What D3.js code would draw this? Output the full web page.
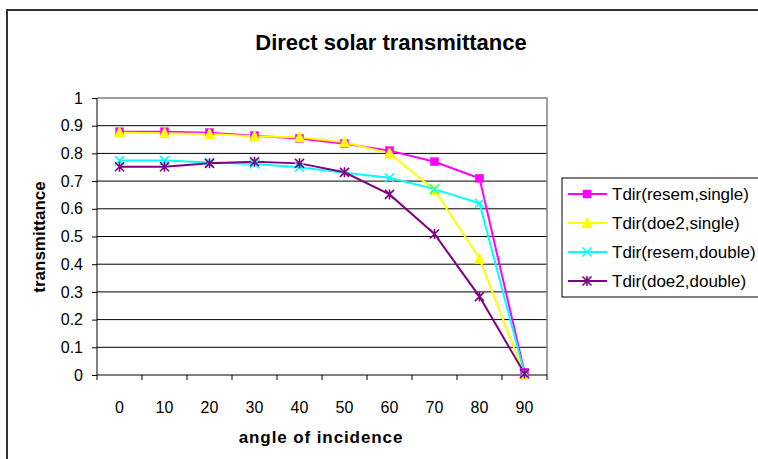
<!DOCTYPE html>
<html>
<head>
<meta charset="utf-8">
<script src="https://cdn.jsdelivr.net/npm/d3@7/dist/d3.min.js"></script>
<style>
  html, body { margin: 0; padding: 0; background: #fff; }
  svg { display: block; font-family: "Liberation Sans", Arial, sans-serif; }
</style>
</head>
<body>
<svg id="chart" width="758" height="459"></svg>
<script>
// Angles of incidence (degrees)
const angles = ["0", "10", "20", "30", "40", "50", "60", "70", "80", "90"];

// Direct solar transmittance per model / glazing
const resemSingle = [0.878, 0.878, 0.875, 0.864, 0.854, 0.835, 0.81, 0.77, 0.71, 0.01];
const doe2Single  = [0.875, 0.873, 0.870, 0.862, 0.858, 0.840, 0.80, 0.668, 0.42, 0.0];
const resemDouble = [0.774, 0.774, 0.767, 0.762, 0.750, 0.730, 0.712, 0.671, 0.62, 0.005];
const doe2Double  = [0.752, 0.752, 0.764, 0.770, 0.764, 0.732, 0.652, 0.509, 0.283, 0.005];

const seriesNames = ["Tdir(resem,single)", "Tdir(doe2,single)", "Tdir(resem,double)", "Tdir(doe2,double)"];
const yTicks = [0, 0.1, 0.2, 0.3, 0.4, 0.5, 0.6, 0.7, 0.8, 0.9, 1];

const series = [
  { name: seriesNames[0], values: resemSingle, color: "#ff00ff", marker: "square" },
  { name: seriesNames[1], values: doe2Single,  color: "#ffff00", marker: "triangle" },
  { name: seriesNames[2], values: resemDouble, color: "#00ffff", marker: "cross" },
  { name: seriesNames[3], values: doe2Double,  color: "#800080", marker: "star" }
];

const svg = d3.select("#chart");

// Outer chart frame
svg.append("rect")
  .attr("x", 7).attr("y", 10).attr("width", 800).attr("height", 500)
  .attr("fill", "none").attr("stroke", "#333").attr("stroke-width", 2);

const plot = { left: 97, right: 547, top: 98, bottom: 375 };

const x = d3.scaleBand().domain(angles).range([plot.left, plot.right]).paddingInner(0).paddingOuter(0);
const y = d3.scaleLinear().domain([0, 1]).range([plot.bottom, plot.top]);

// Horizontal gridlines
svg.append("g")
  .selectAll("line")
  .data(yTicks.filter(t => t > 0 && t < 1))
  .join("line")
  .attr("x1", plot.left).attr("x2", plot.right)
  .attr("y1", d => y(d)).attr("y2", d => y(d))
  .attr("stroke", "#000").attr("stroke-width", 1);

// Plot area top/right edges
svg.append("path")
  .attr("d", `M${plot.left},${y(1)}H${plot.right}V${plot.bottom}`)
  .attr("fill", "none").attr("stroke", "#808080").attr("stroke-width", 1.5);

// Y axis
const yAxis = d3.axisLeft(y).tickValues(yTicks).tickSize(5).tickPadding(9)
  .tickFormat(d => d === 0 || d === 1 ? String(d) : d.toFixed(1));
const gy = svg.append("g").attr("transform", `translate(${plot.left},0)`).call(yAxis);
gy.select(".domain").attr("stroke", "#000").attr("d", `M0,${plot.top}V${plot.bottom}`);
gy.selectAll(".tick line").attr("stroke", "#000");
gy.selectAll(".tick text").attr("font-size", 16).attr("fill", "#000")
  .attr("font-family", "Liberation Sans, Arial, sans-serif");

// X axis: ticks sit at category boundaries, labels at category centers
const gx = svg.append("g").attr("transform", `translate(0,${plot.bottom})`);
gx.append("line").attr("x1", plot.left).attr("x2", plot.right).attr("y1", 0).attr("y2", 0)
  .attr("stroke", "#000");
const boundaries = angles.map(a => x(a)).concat([plot.right]);
gx.selectAll("line.tk").data(boundaries).join("line").attr("class", "tk")
  .attr("x1", d => d).attr("x2", d => d).attr("y1", 0).attr("y2", 5).attr("stroke", "#000");
gx.selectAll("text").data(angles).join("text")
  .attr("x", d => x(d) + x.bandwidth() / 2).attr("y", 38)
  .attr("text-anchor", "middle").attr("font-size", 16).attr("fill", "#000")
  .text(d => d);

// Titles
svg.append("text").attr("x", 391).attr("y", 50).attr("text-anchor", "middle")
  .attr("font-size", 22).attr("font-weight", "bold").text("Direct solar transmittance");
svg.append("text").attr("x", 321).attr("y", 443).attr("text-anchor", "middle")
  .attr("font-size", 17).attr("font-weight", "bold").attr("letter-spacing", 0.9)
  .text("angle of incidence");
svg.append("text").attr("transform", "translate(45,237) rotate(-90)").attr("text-anchor", "middle")
  .attr("font-size", 17).attr("font-weight", "bold").text("transmittance");

// Marker drawing
function drawMarker(g, type, color) {
  if (type === "square") {
    g.append("rect").attr("x", -4).attr("y", -4).attr("width", 8).attr("height", 8)
      .attr("fill", color).attr("stroke", color).attr("stroke-width", 0.5);
  } else if (type === "triangle") {
    g.append("path").attr("d", "M0,-5.5L5,4.5L-5,4.5Z").attr("fill", color).attr("stroke", color);
  } else if (type === "cross") {
    g.append("path").attr("d", "M-4.5,-4.5L4.5,4.5M4.5,-4.5L-4.5,4.5")
      .attr("stroke", color).attr("stroke-width", 1.6).attr("fill", "none");
  } else if (type === "star") {
    g.append("path").attr("d", "M-4.5,-4.5L4.5,4.5M4.5,-4.5L-4.5,4.5M0,-5V5")
      .attr("stroke", color).attr("stroke-width", 1.6).attr("fill", "none");
  }
}

const cx = d => x(d) + x.bandwidth() / 2;
const line = d3.line().x(d => cx(d.a)).y(d => y(d.v));

series.forEach(s => {
  const pts = angles.map((a, i) => ({ a, v: s.values[i] }));
  svg.append("path").datum(pts).attr("d", line)
    .attr("fill", "none").attr("stroke", s.color).attr("stroke-width", 2);
});
series.forEach(s => {
  const pts = angles.map((a, i) => ({ a, v: s.values[i] }));
  pts.forEach(p => {
    const g = svg.append("g").attr("transform", `translate(${cx(p.a)},${y(p.v)})`);
    drawMarker(g, s.marker, s.color);
  });
});

// Legend
const legend = svg.append("g");
legend.append("rect").attr("x", 562).attr("y", 178).attr("width", 220).attr("height", 119)
  .attr("fill", "#fff").attr("stroke", "#000").attr("stroke-width", 1);
series.forEach((s, i) => {
  const ly = 194 + i * 29;
  legend.append("line").attr("x1", 568).attr("x2", 607).attr("y1", ly).attr("y2", ly)
    .attr("stroke", s.color).attr("stroke-width", 2);
  drawMarker(legend.append("g").attr("transform", `translate(587,${ly})`), s.marker, s.color);
  legend.append("text").attr("x", 612).attr("y", ly + 6).attr("font-size", 17).attr("fill", "#000")
    .text(s.name);
});
</script>
</body>
</html>
